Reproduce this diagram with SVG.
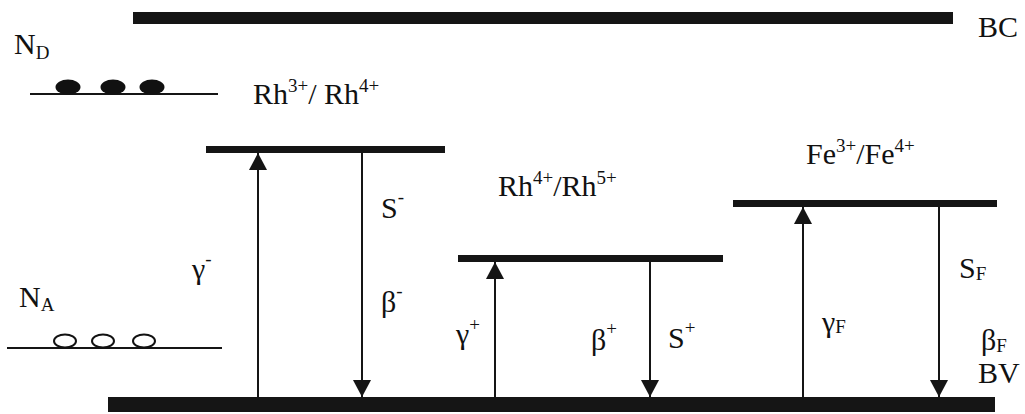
<svg xmlns="http://www.w3.org/2000/svg" width="1025" height="414" viewBox="0 0 1025 414">
<style>
text{font-family:"Liberation Serif","Times New Roman",serif;fill:#111;font-size:30px}
.sub{font-size:19px}
.bar{fill:#151515}
.lvl{stroke:#151515;stroke-width:2}
.conn line{stroke:#151515;stroke-width:2;fill:none}
</style>
<defs>
<marker id="arr" viewBox="0 0 17 18" markerWidth="17" markerHeight="18" refX="17" refY="9" orient="auto" markerUnits="userSpaceOnUse">
<path d="M0,0 L17,9 L0,18 z" fill="#151515"/>
</marker>
</defs>
<rect width="1025" height="414" fill="#fff"/>
<g id="BC">
<rect class="bar" x="133" y="12" width="820" height="12"/>
<text x="978" y="37">BC</text>
</g>
<g id="BV">
<rect class="bar" x="108" y="397" width="887" height="15"/>
<text x="978" y="383">BV</text>
</g>
<g id="ND">
<text x="14" y="54">N<tspan class="sub" dy="5">D</tspan></text>
<line class="lvl" x1="30" y1="94" x2="218" y2="94"/>
<ellipse cx="68" cy="87" rx="12.5" ry="7.5" fill="#111"/>
<ellipse cx="113" cy="87" rx="12.5" ry="7.5" fill="#111"/>
<ellipse cx="152" cy="87" rx="12.5" ry="7.5" fill="#111"/>
</g>
<g id="NA">
<text x="19" y="307">N<tspan class="sub" dy="4">A</tspan></text>
<line class="lvl" x1="7" y1="348" x2="222" y2="348"/>
<ellipse cx="65" cy="341" rx="11" ry="6.5" fill="none" stroke="#111" stroke-width="2"/>
<ellipse cx="103" cy="341" rx="11" ry="6.5" fill="none" stroke="#111" stroke-width="2"/>
<ellipse cx="144" cy="341" rx="11" ry="6.5" fill="none" stroke="#111" stroke-width="2"/>
</g>
<g id="Rh34">
<rect class="bar" x="206" y="146" width="239" height="7"/>
<text x="253" y="104">Rh<tspan class="sub" dy="-12">3+</tspan><tspan dy="12">/ Rh</tspan><tspan class="sub" dy="-12">4+</tspan></text>
</g>
<g id="Rh45">
<rect class="bar" x="458" y="255" width="265" height="7"/>
<text x="498" y="196">Rh<tspan class="sub" dy="-12">4+</tspan><tspan dy="12">/Rh</tspan><tspan class="sub" dy="-12">5+</tspan></text>
</g>
<g id="Fe34">
<rect class="bar" x="733" y="200" width="264" height="7"/>
<text x="806" y="164">Fe<tspan class="sub" dy="-12">3+</tspan><tspan dy="12">/Fe</tspan><tspan class="sub" dy="-12">4+</tspan></text>
</g>
<g id="connectors" class="conn">
<line x1="258" y1="397" x2="258" y2="153" marker-end="url(#arr)"/>
<line x1="362" y1="153" x2="362" y2="397" marker-end="url(#arr)"/>
<line x1="495" y1="397" x2="495" y2="262" marker-end="url(#arr)"/>
<line x1="650" y1="262" x2="650" y2="397" marker-end="url(#arr)"/>
<line x1="803" y1="397" x2="803" y2="207" marker-end="url(#arr)"/>
<line x1="939" y1="207" x2="939" y2="397" marker-end="url(#arr)"/>
</g>
<g id="labels">
<text x="192" y="279">γ<tspan class="sub" dy="-14">-</tspan></text>
<text x="381" y="218">S<tspan class="sub" dy="-15">-</tspan></text>
<text x="381" y="312">β<tspan class="sub" dy="-15">-</tspan></text>
<text x="456" y="344">γ<tspan class="sub" dy="-13">+</tspan></text>
<text x="591" y="350">β<tspan class="sub" dy="-15">+</tspan></text>
<text x="668" y="348">S<tspan class="sub" dy="-14">+</tspan></text>
<text x="822" y="332">γ<tspan class="sub" dy="1">F</tspan></text>
<text x="959" y="278">S<tspan class="sub" dy="2">F</tspan></text>
<text x="981" y="350">β<tspan class="sub" dy="2">F</tspan></text>
</g>
</svg>
